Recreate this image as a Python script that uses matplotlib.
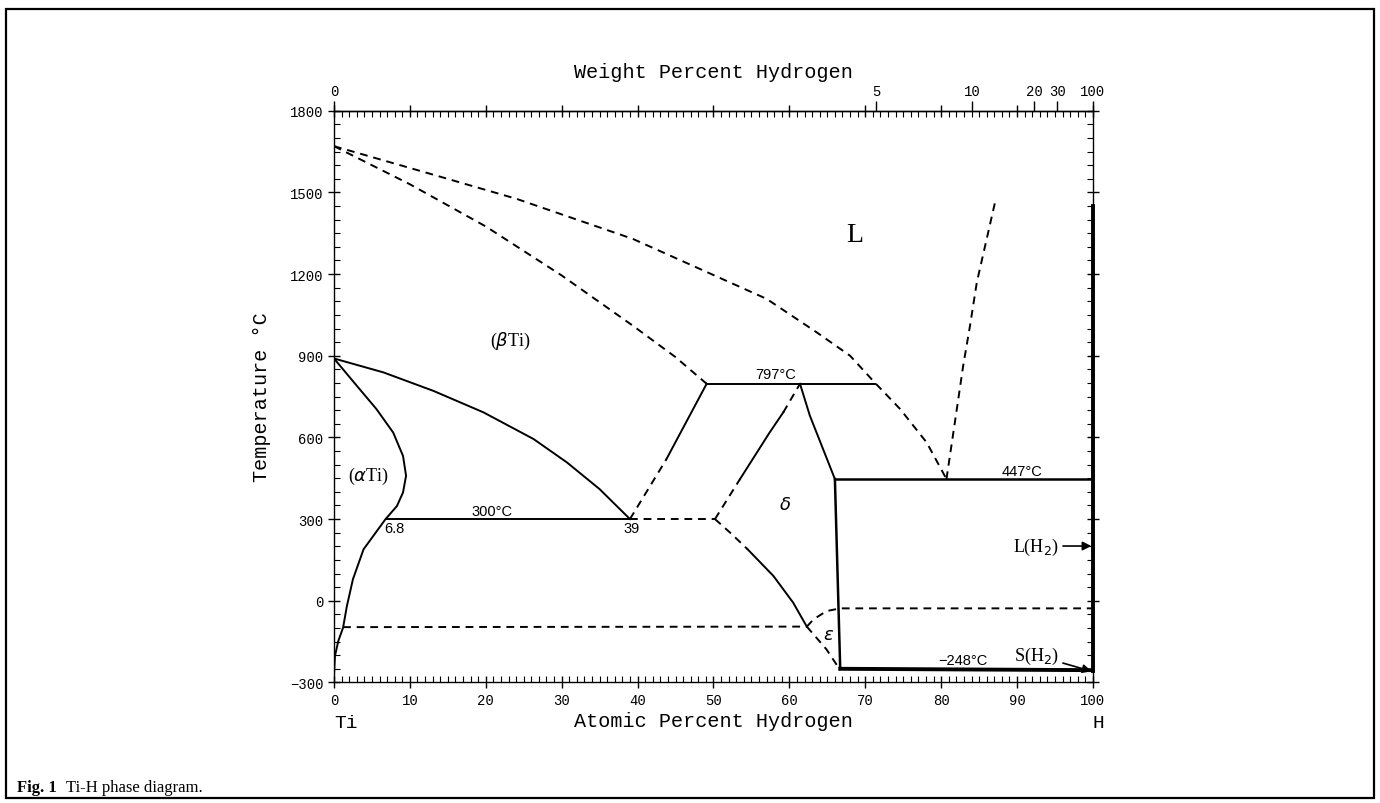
import matplotlib
matplotlib.use('Agg')

import numpy as np
import matplotlib.pyplot as plt
from matplotlib.ticker import MultipleLocator, FixedLocator
from matplotlib.patches import Rectangle

# NOTE: all boundaries given as (atomic % H, temperature in C)
liq_x = [0, 13.1, 24.1, 39.4, 48.2, 57.0, 63.6, 68.0, 71.3, 74.6, 78.1, 80.7]
liq_y = [1670, 1565, 1476, 1329, 1219, 1109, 986, 900, 800, 704, 581, 447]

beta_liq_x = [0, 10, 20, 30, 39.4, 45, 49.1]
beta_liq_y = [1670, 1530, 1375, 1195, 1010, 895, 797]

h_liq_x = [80.7, 82.0, 82.9, 83.8, 84.7, 87.1]
h_liq_y = [447, 692, 863, 1010, 1170, 1464]

alpha_x = [0, 3.0, 5.6, 7.8, 9.1, 9.5, 9.1, 8.3, 6.8, 3.9, 2.5, 1.7, 1.2, 0.57, 0.13, 0]
alpha_y = [890, 790, 704, 618, 532, 459, 398, 348, 300, 189, 79, -20, -99, -148, -203, -277]

beta_x = [0, 6.5, 13.1, 19.7, 26.3, 30.7, 35.0, 39.0]
beta_y = [890, 839, 771, 692, 594, 508, 410, 300]

eutectoid_x = [6.8, 39.0]
eutectoid_y = [300, 300]
eutectoid_d_x = [39.0, 50.2]
eutectoid_d_y = [300, 300]

bd_dash_x = [39.0, 43.8]
bd_dash_y = [300, 520]
bd_x = [43.8, 49.1]
bd_y = [520, 797]

peri_x = [49.1, 71.3]
peri_y = [797, 797]

dl_dash1_x = [50.2, 53.5]
dl_dash1_y = [300, 447]
dl_x = [53.5, 57.4, 59.2]
dl_y = [447, 618, 692]
dl_dash2_x = [59.2, 61.4]
dl_dash2_y = [692, 797]

dr_x = [61.4, 62.7, 66.0]
dr_y = [797, 680, 447]

mono_x = [66.0, 100]
mono_y = [447, 447]

dh_x = [66.0, 66.7]
dh_y = [447, -250]

dlow_dash_x = [50.2, 52.4, 54.5]
dlow_dash_y = [300, 245, 189]
dlow_x = [54.5, 57.9, 60.5, 62.3]
dlow_y = [189, 91, -7, -95]

eps_x = [62.3, 64.9, 66.7]
eps_y = [-95, -179, -255]
eps_top_x = [62.3, 63.2, 64.9, 66.7, 100]
eps_top_y = [-95, -68, -38, -28, -28]

low_x = [1.2, 62.3]
low_y = [-97, -95]

h2_x = [66.7, 100]
h2_y = [-250, -255]
hvert_x = [100, 100]
hvert_y = [-259, 1450]

wt_ticks = [0, 5, 10, 20, 30, 100]


def at_to_wt(a):
    a = np.clip(np.asarray(a, dtype=float), 0, 100)
    return 100 * 1.008 * a / (1.008 * a + 47.87 * (100 - a))


def wt_to_at(w):
    w = np.clip(np.asarray(w, dtype=float), 0, 100)
    h = w / 1.008
    return 100 * h / (h + (100 - w) / 47.87)


fig = plt.figure(figsize=(13.8, 8.04), dpi=100)
ax = fig.add_axes([0.242, 0.150, 0.550, 0.711])

solid = dict(color='black', lw=1.4)
dash = dict(color='black', lw=1.4, ls=(0, (4, 3)))

ax.plot(liq_x, liq_y, **dash)
ax.plot(beta_liq_x, beta_liq_y, **dash)
ax.plot(h_liq_x, h_liq_y, **dash)
ax.plot(alpha_x, alpha_y, **solid)
ax.plot(beta_x, beta_y, **solid)
ax.plot(eutectoid_x, eutectoid_y, **solid)
ax.plot(eutectoid_d_x, eutectoid_d_y, **dash)
ax.plot(bd_dash_x, bd_dash_y, **dash)
ax.plot(bd_x, bd_y, **solid)
ax.plot(peri_x, peri_y, **solid)
ax.plot(dl_dash1_x, dl_dash1_y, **dash)
ax.plot(dl_x, dl_y, **solid)
ax.plot(dl_dash2_x, dl_dash2_y, **dash)
ax.plot(dr_x, dr_y, **solid)
ax.plot(mono_x, mono_y, color='black', lw=1.8)
ax.plot(dh_x, dh_y, color='black', lw=1.8)
ax.plot(dlow_dash_x, dlow_dash_y, **dash)
ax.plot(dlow_x, dlow_y, **solid)
ax.plot(eps_x, eps_y, **dash)
ax.plot(eps_top_x, eps_top_y, **dash)
ax.plot(low_x, low_y, **dash)
ax.plot(h2_x, h2_y, color='black', lw=2.8)
ax.plot(hvert_x, hvert_y, color='black', lw=2.8, clip_on=False)

ax.set_xlim(0, 100)
ax.set_ylim(-300, 1800)

# phase labels
serif = 'Liberation Serif'
sans = 'Liberation Sans'
ax.text(68.6, 1345, 'L', fontsize=20, family=serif, ha='center', va='center')
ax.text(23.2, 955, r'($\beta$Ti)', fontsize=13, family=serif, ha='center', va='center')
ax.text(4.5, 461, r'($\alpha$Ti)', fontsize=13, family=serif, ha='center', va='center')
ax.text(59.4, 355, r'$\delta$', fontsize=13, family=serif, ha='center', va='center')
ax.text(65.1, -124, r'$\varepsilon$', fontsize=13, family=serif, ha='center', va='center')
ax.text(20.8, 330, '300°C', fontsize=10.5, family=sans, ha='center', va='center')
ax.text(8.0, 269, '6.8', fontsize=10.5, family=sans, ha='center', va='center')
ax.text(39.2, 269, '39', fontsize=10.5, family=sans, ha='center', va='center')
ax.text(58.2, 833, '797°C', fontsize=10.5, family=sans, ha='center', va='center')
ax.text(90.7, 477, '447°C', fontsize=10.5, family=sans, ha='center', va='center')
ax.text(82.9, -216, '\u2212248°C', fontsize=10.5, family=sans, ha='center', va='center')
ax.annotate(r'L(H$_2$)', xy=(99.8, 201), xytext=(95.5, 201), fontsize=13, family=serif,
            ha='right', va='center',
            arrowprops=dict(arrowstyle='-|>', color='black', lw=1.2, shrinkA=1, shrinkB=0))
ax.annotate(r'S(H$_2$)', xy=(99.8, -259), xytext=(95.5, -201), fontsize=13, family=serif,
            ha='right', va='center',
            arrowprops=dict(arrowstyle='-|>', color='black', lw=1.2, shrinkA=1, shrinkB=0))

# axes and ticks
mono = 'Liberation Mono'
ax.xaxis.set_major_locator(MultipleLocator(10))
ax.xaxis.set_minor_locator(MultipleLocator(1))
ax.yaxis.set_major_locator(MultipleLocator(300))
ax.yaxis.set_minor_locator(MultipleLocator(50))
ax.tick_params(which='major', direction='inout', length=8, width=1, labelsize=10,
               top=True, right=True, labeltop=False)
ax.tick_params(which='minor', direction='in', length=4, width=0.8, top=True, right=True)
for lab in ax.get_xticklabels() + ax.get_yticklabels():
    lab.set_family(mono)
for sp in ax.spines.values():
    sp.set_linewidth(1.0)

ax.set_xlabel('Atomic Percent Hydrogen', fontsize=14.5, family=mono, labelpad=3)
ax.set_ylabel('Temperature °C', fontsize=14.5, family=mono, labelpad=14)
ax.text(0.0, -0.07, 'Ti', transform=ax.transAxes, fontsize=14, family=mono, ha='left', va='center')
ax.text(1.0, -0.07, 'H', transform=ax.transAxes, fontsize=14, family=mono, ha='left', va='center')

top = ax.secondary_xaxis('top', functions=(at_to_wt, wt_to_at))
top.xaxis.set_major_locator(FixedLocator(wt_ticks))
top.xaxis.set_minor_locator(FixedLocator([]))
top.tick_params(which='major', direction='out', length=7, width=1, labelsize=10, pad=2)
for lab in top.get_xticklabels():
    lab.set_family(mono)
top.spines['top'].set_linewidth(1.0)
top.set_xlabel('Weight Percent Hydrogen', fontsize=14.5, family=mono, labelpad=5)

# page frame and caption
fig.patches.append(Rectangle((0.004, 0.006), 0.992, 0.982, transform=fig.transFigure,
                             fill=False, edgecolor='black', lw=1.6))
fig.text(0.012, 0.02, 'Fig. 1', fontsize=12, family=serif, weight='bold', ha='left', va='center')
fig.text(0.048, 0.02, 'Ti-H phase diagram.', fontsize=12, family=serif, ha='left', va='center')

fig.savefig('out.png', dpi=100)
